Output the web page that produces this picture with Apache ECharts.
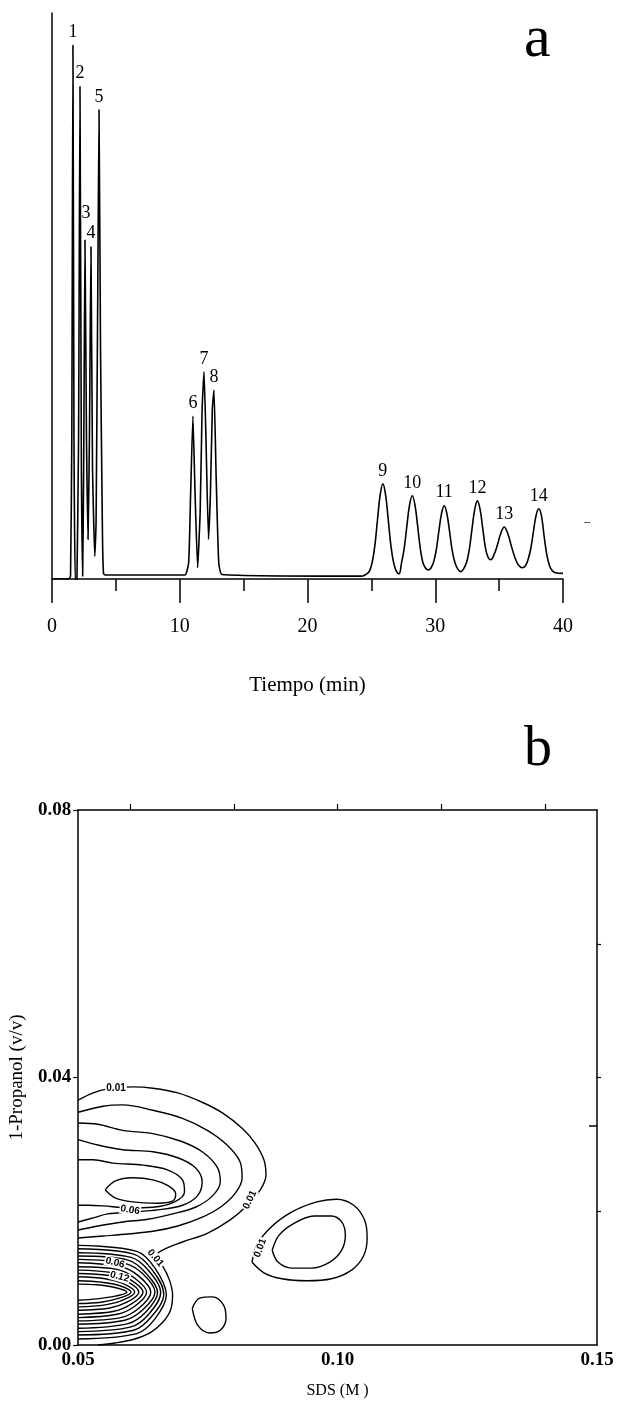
<!DOCTYPE html>
<html>
<head>
<meta charset="utf-8">
<script src="https://cdn.jsdelivr.net/npm/echarts@6/dist/echarts.min.js"></script>
<style>
  html, body { margin: 0; padding: 0; background: #fff; }
  #chart { width: 617px; height: 1411px; }
</style>
</head>
<body>
<div id="chart"></div>
<script>
// ---- (a) chromatogram: [time (min), detector signal] ----
// first part: the sharp early peaks 1-8
const chromatogramEarly = [
  [0, 0], [1.3, 0], [1.45, 0.5],
  [1.55, 25], [1.64, 94.3], [1.72, 25], [1.82, -0.5],
  [1.95, -0.3], [2.08, 25], [2.19, 87], [2.3, 20], [2.4, 0.5],
  [2.48, 20], [2.58, 59.9], [2.7, 25], [2.82, 7],
  [2.93, 25], [3.05, 58.7], [3.17, 20], [3.35, 4],
  [3.45, 10], [3.58, 50], [3.68, 82.9], [3.8, 40], [3.95, 8], [4.03, 1], [4.15, 0.7],
  [10.4, 0.7], [10.7, 3], [10.85, 15], [11.03, 28.8], [11.2, 15], [11.4, 2],
  [11.6, 12], [11.75, 30], [11.9, 36.6], [12.05, 25], [12.25, 7],
  [12.4, 15], [12.55, 30], [12.68, 33.4], [12.85, 18], [13.05, 3], [13.3, 0.8],
  [24.3, 0.5]
];
// second part: the broader late peaks 9-14
const chromatogramLate = [
  [24.3, 0.5], [24.64, 0.9], [24.85, 1.4], [25.06, 2.9], [25.27, 5.85], [25.48, 10.5], [25.69, 14.9],
  [25.9, 16.8], [26.11, 14.9], [26.32, 10.5], [26.53, 5.85], [26.74, 2.9], [26.95, 1.4], [27.16, 0.9],
  [27.36, 2.85], [27.57, 5.4], [27.78, 9.4], [27.99, 13.1], [28.2, 14.7], [28.41, 13.1], [28.62, 9.4],
  [28.83, 5.4], [29.04, 2.85], [29.25, 1.9], [29.45, 1.6], [29.65, 1.9],
  [29.86, 2.9], [30.07, 5.0], [30.28, 8.4], [30.49, 11.55], [30.7, 12.95], [30.91, 11.55], [31.12, 8.4],
  [31.33, 5.0], [31.54, 2.9], [31.75, 1.8], [32.0, 1.3], [32.22, 1.8],
  [32.46, 3.0], [32.67, 5.3], [32.88, 8.9], [33.09, 12.3], [33.3, 13.8], [33.51, 12.3], [33.72, 8.9],
  [33.93, 5.5], [34.14, 3.8], [34.35, 3.4],
  [34.6, 4.3], [34.85, 5.9], [35.12, 8.0], [35.4, 9.2], [35.68, 8.0], [35.95, 5.9], [36.22, 3.9],
  [36.5, 2.5], [36.8, 2.0], [37.05, 2.3],
  [37.26, 3.4], [37.47, 5.3], [37.68, 8.3], [37.89, 11.2], [38.1, 12.4], [38.31, 11.2], [38.52, 7.6],
  [38.73, 4.3], [38.94, 2.4], [39.15, 1.5], [39.4, 1.1], [40, 1.0]
];

// peak numbering and apex positions
const peakNumbers = ['1', '2', '3', '4', '5', '6', '7', '8', '9', '10', '11', '12', '13', '14'];
const peakTimes   = [1.64, 2.19, 2.58, 3.05, 3.68, 11.03, 11.9, 12.68, 25.9, 28.2, 30.7, 33.3, 35.4, 38.1];
const peakHeights = [94.3, 87, 59.9, 58.7, 82.9, 28.8, 36.6, 33.4, 16.8, 14.7, 12.95, 13.8, 9.2, 12.4];

// ---- (b) contour map: SDS (M) vs 1-propanol (v/v) ----
const contourOuter = [
  [0.0500, 0.0366], [0.0529, 0.0377], [0.0557, 0.0383], [0.0605, 0.0386], [0.0644, 0.0384],
  [0.0692, 0.0377], [0.0739, 0.0363], [0.0778, 0.0347], [0.0816, 0.0324], [0.0841, 0.0302],
  [0.0858, 0.0277], [0.0862, 0.0254], [0.0851, 0.0232], [0.0826, 0.0209], [0.0793, 0.0187],
  [0.0749, 0.0167], [0.0701, 0.0154], [0.0663, 0.0142], [0.0648, 0.0132], [0.0663, 0.0118],
  [0.0676, 0.0097], [0.0682, 0.0075], [0.0678, 0.0052], [0.0663, 0.0034], [0.0640, 0.0019],
  [0.0609, 0.0009], [0.0571, 0.0003], [0.0538, 0]
];
const contourUpper2 = [
  [0.0500, 0.0348], [0.0548, 0.0357], [0.0586, 0.0359], [0.0644, 0.0351], [0.0701, 0.0339],
  [0.0749, 0.0321], [0.0787, 0.0299], [0.0812, 0.0274], [0.0816, 0.0250], [0.0803, 0.0227],
  [0.0774, 0.0206], [0.0736, 0.0190], [0.0692, 0.0178], [0.0644, 0.0170], [0.0596, 0.0166],
  [0.0548, 0.0163], [0.0500, 0.0160]
];
const contourUpper3 = [
  [0.0500, 0.0332], [0.0538, 0.0330], [0.0586, 0.0321], [0.0644, 0.0316], [0.0697, 0.0305],
  [0.0739, 0.0289], [0.0768, 0.0266], [0.0774, 0.0244], [0.0759, 0.0223], [0.0726, 0.0206],
  [0.0682, 0.0196], [0.0634, 0.0188], [0.0586, 0.0184], [0.0538, 0.0178], [0.0500, 0.0172]
];
const contourUpper4 = [
  [0.0500, 0.0307], [0.0538, 0.0299], [0.0586, 0.0292], [0.0644, 0.0289], [0.0692, 0.0280],
  [0.0726, 0.0265], [0.0739, 0.0244], [0.0730, 0.0223], [0.0701, 0.0209], [0.0653, 0.0202],
  [0.0605, 0.0199], [0.0557, 0.0196], [0.0529, 0.0190], [0.0500, 0.0184]
];
const contourUpper5 = [
  [0.0500, 0.0277], [0.0529, 0.0277], [0.0567, 0.0272], [0.0625, 0.0269], [0.0672, 0.0262],
  [0.0701, 0.0247], [0.0705, 0.0229], [0.0686, 0.0214], [0.0644, 0.0206], [0.0596, 0.0205],
  [0.0548, 0.0208], [0.0519, 0.0209], [0.0500, 0.0209]
];
const contourUpper6 = [
  [0.0552, 0.0232], [0.0571, 0.0245], [0.0605, 0.0250], [0.0644, 0.0247], [0.0674, 0.0238],
  [0.0688, 0.0226], [0.0682, 0.0215], [0.0653, 0.0212], [0.0605, 0.0214], [0.0571, 0.0220],
  [0.0552, 0.0232]
];
// nested contours of the lower lobe, innermost first
const contourLower = [
  [[0.05, 0.0091], [0.0536, 0.0090], [0.0571, 0.0086], [0.0594, 0.0079], [0.0571, 0.0073], [0.0536, 0.0069], [0.05, 0.0067]],
  [[0.05, 0.0096], [0.0544, 0.0094], [0.0579, 0.0089], [0.0602, 0.0079], [0.0579, 0.0070], [0.0544, 0.0064], [0.05, 0.0062]],
  [[0.05, 0.0102], [0.0552, 0.0099], [0.0586, 0.0092], [0.0609, 0.0079], [0.0586, 0.0067], [0.0552, 0.0060], [0.05, 0.0057]],
  [[0.05, 0.0107], [0.0559, 0.0104], [0.0594, 0.0095], [0.0617, 0.0079], [0.0594, 0.0064], [0.0559, 0.0055], [0.05, 0.0052]],
  [[0.05, 0.0112], [0.0567, 0.0108], [0.0602, 0.0097], [0.0625, 0.0079], [0.0602, 0.0061], [0.0567, 0.0050], [0.05, 0.0046]],
  [[0.05, 0.0117], [0.0575, 0.0113], [0.0609, 0.0100], [0.0632, 0.0079], [0.0609, 0.0058], [0.0575, 0.0046], [0.05, 0.0041]],
  [[0.05, 0.0123], [0.0582, 0.0117], [0.0617, 0.0103], [0.0640, 0.0079], [0.0617, 0.0055], [0.0582, 0.0041], [0.05, 0.0036]],
  [[0.05, 0.0128], [0.0590, 0.0122], [0.0625, 0.0106], [0.0648, 0.0079], [0.0625, 0.0053], [0.0590, 0.0037], [0.05, 0.0031]],
  [[0.05, 0.0133], [0.0596, 0.0127], [0.0630, 0.0108], [0.0653, 0.0078], [0.0630, 0.0049], [0.0596, 0.0032], [0.05, 0.0025]],
  [[0.05, 0.0138], [0.0602, 0.0131], [0.0636, 0.0111], [0.0659, 0.0078], [0.0636, 0.0046], [0.0602, 0.0027], [0.05, 0.0020]],
  [[0.05, 0.0144], [0.0607, 0.0136], [0.0642, 0.0113], [0.0665, 0.0076], [0.0642, 0.0043], [0.0607, 0.0022], [0.05, 0.0015]],
  [[0.05, 0.0149], [0.0613, 0.0140], [0.0648, 0.0115], [0.0670, 0.0075], [0.0648, 0.0039], [0.0613, 0.0017], [0.05, 0.0009]]
];
const contourIsland = [
  [0.0720, 0.0055], [0.0734, 0.0070], [0.0759, 0.0072], [0.0780, 0.0060], [0.0785, 0.0040],
  [0.0774, 0.0022], [0.0753, 0.0018], [0.0730, 0.0030], [0.0720, 0.0055]
];
const contourRightOuter = [
  [0.0835, 0.0124], [0.0845, 0.0150], [0.0870, 0.0175], [0.0912, 0.0199], [0.0960, 0.0214],
  [0.0998, 0.0218], [0.1031, 0.0209], [0.1052, 0.0187], [0.1057, 0.0160], [0.1050, 0.0133],
  [0.1027, 0.0112], [0.0988, 0.0099], [0.0941, 0.0096], [0.0893, 0.0099], [0.0858, 0.0108],
  [0.0835, 0.0124]
];
const contourRightInner = [
  [0.0874, 0.0142], [0.0887, 0.0164], [0.0916, 0.0182], [0.0954, 0.0193], [0.0988, 0.0193],
  [0.1008, 0.0184], [0.1015, 0.0164], [0.1008, 0.0142], [0.0985, 0.0124], [0.0950, 0.0115],
  [0.0912, 0.0115], [0.0885, 0.0124], [0.0874, 0.0142]
];

// contour level labels
const levelText = ['0.01', '0.06', '0.01', '0.01', '0.06', '0.12', '0.01'];
const levelPos  = [[0.0573, 0.0384], [0.0600, 0.0202], [0.0831, 0.0217], [0.0649, 0.0130],
                   [0.0571, 0.0123], [0.0580, 0.0102], [0.0851, 0.0145]];
const levelAngle = [0, -10, 65, -50, -15, -15, 70];

const sdsMinorTicks = [0.06, 0.08, 0.10, 0.12, 0.14];
const propanolRightTicks = [0.02, 0.04, 0.06];

// ---- drawing ----
const SERIF = '"Liberation Serif", "DejaVu Serif", serif';
const INK = '#000';

const chart = echarts.init(document.getElementById('chart'), null, { renderer: 'canvas' });

const contourStyle = { color: INK, width: 1.4 };
function contourSeries(data) {
  return {
    type: 'line', xAxisIndex: 1, yAxisIndex: 1, data: data,
    showSymbol: false, symbol: 'none', smooth: 0.35, animation: false,
    lineStyle: contourStyle, z: 3, silent: true
  };
}

const contourSets = [contourOuter, contourUpper2, contourUpper3, contourUpper4, contourUpper5, contourUpper6]
  .concat(contourLower)
  .concat([contourIsland, contourRightOuter, contourRightInner]);

const traceStyle = { color: INK, width: 1.6 };

const option = {
  animation: false,
  backgroundColor: '#fff',
  textStyle: { fontFamily: SERIF, color: INK },
  grid: [
    { left: 52, top: 13, width: 511, height: 566 },
    { left: 75, top: 810, width: 522, height: 535 }
  ],
  xAxis: [
    {
      gridIndex: 0, type: 'value', min: 0, max: 40, interval: 10,
      axisLine: { onZero: false, lineStyle: { color: INK, width: 1.5 } },
      axisTick: { length: 24, lineStyle: { color: INK, width: 1.5 } },
      minorTick: { show: true, splitNumber: 2, length: 12, lineStyle: { color: INK, width: 1.5 } },
      axisLabel: { margin: 38, fontSize: 20, fontFamily: SERIF, color: INK },
      splitLine: { show: false },
      name: 'Tiempo (min)', nameLocation: 'middle', nameGap: 96,
      nameTextStyle: { fontSize: 21, fontFamily: SERIF, color: INK }
    },
    {
      gridIndex: 1, type: 'value', position: 'bottom', min: 0.05, max: 0.15, interval: 0.05,
      axisLine: { onZero: false, lineStyle: { color: INK, width: 1.5 } },
      axisTick: { show: false },
      axisLabel: { margin: 6, fontSize: 19, fontWeight: 'bold', fontFamily: SERIF, color: INK,
                   formatter: v => v.toFixed(2) },
      splitLine: { show: false },
      name: 'SDS (M )', nameLocation: 'middle', nameGap: 38,
      nameTextStyle: { fontSize: 16, fontFamily: SERIF, color: INK }
    },
    {
      gridIndex: 1, type: 'value', position: 'top', min: 0.05, max: 0.15,
      axisLine: { onZero: false, lineStyle: { color: INK, width: 1.5 } },
      axisTick: { show: true, length: 6, customValues: sdsMinorTicks, lineStyle: { color: INK, width: 1.2 } },
      axisLabel: { show: false },
      splitLine: { show: false }
    }
  ],
  yAxis: [
    {
      gridIndex: 0, type: 'value', min: 0, max: 100,
      axisLine: { show: true, onZero: false, lineStyle: { color: INK, width: 1.5 } },
      axisTick: { show: false }, axisLabel: { show: false }, splitLine: { show: false }
    },
    {
      gridIndex: 1, type: 'value', position: 'left', min: 0, max: 0.08, interval: 0.04,
      axisLine: { show: true, onZero: false, lineStyle: { color: INK, width: 1.5 } },
      axisTick: { show: true, length: 5, lineStyle: { color: INK, width: 1.2 } },
      axisLabel: { margin: 7, fontSize: 19, fontWeight: 'bold', fontFamily: SERIF, color: INK,
                   formatter: v => v.toFixed(2) },
      splitLine: { show: false },
      name: '1-Propanol (v/v)', nameLocation: 'middle', nameGap: 45,
      nameTextStyle: { fontSize: 19, fontFamily: SERIF, color: INK }
    },
    {
      gridIndex: 1, type: 'value', position: 'right', min: 0, max: 0.08,
      axisLine: { show: true, onZero: false, lineStyle: { color: INK, width: 1.5 } },
      axisTick: { show: true, length: 4, customValues: propanolRightTicks, lineStyle: { color: INK, width: 1.2 } },
      axisLabel: { show: false }, splitLine: { show: false }
    }
  ],
  series: [
    {
      type: 'line', xAxisIndex: 0, yAxisIndex: 0, data: chromatogramEarly,
      showSymbol: false, symbol: 'none', smooth: 0.15,
      lineStyle: traceStyle, z: 3, silent: true
    },
    {
      type: 'line', xAxisIndex: 0, yAxisIndex: 0, data: chromatogramLate,
      showSymbol: false, symbol: 'none', smooth: 0.4,
      lineStyle: traceStyle, z: 3, silent: true
    },
    {
      type: 'scatter', xAxisIndex: 0, yAxisIndex: 0, symbolSize: 0, silent: true,
      itemStyle: { opacity: 1, color: INK },
      data: peakNumbers.map((n, i) => ({
        value: [peakTimes[i], peakHeights[i]],
        label: { formatter: n, offset: i === 2 ? [1, -14] : [0, 0] }
      })),
      label: { show: true, position: 'top', distance: 4, fontSize: 18, fontFamily: SERIF, color: INK },
      z: 4
    }
  ].concat(contourSets.map(contourSeries)).concat([
    {
      type: 'scatter', xAxisIndex: 1, yAxisIndex: 1, symbolSize: 0, silent: true,
      itemStyle: { opacity: 1, color: INK },
      data: levelText.map((t, i) => ({
        value: levelPos[i],
        label: { formatter: t, rotate: levelAngle[i] }
      })),
      label: {
        show: true, position: 'inside', fontSize: 10, fontWeight: 'bold',
        fontFamily: '"Liberation Sans Narrow", "Liberation Sans", sans-serif', color: INK,
        backgroundColor: '#fff', padding: [0, 1]
      },
      z: 5
    }
  ]),
  graphic: [
    { type: 'text', left: 524, top: 10, style: { text: 'a', font: '60px ' + SERIF, fill: INK } },
    { type: 'text', left: 524, top: 722, style: { text: 'b', font: '56px ' + SERIF, fill: INK } },
    { type: 'text', left: 584, top: 517, style: { text: '--', font: '10px ' + SERIF, fill: INK } },
    { type: 'line', shape: { x1: 589, y1: 1126, x2: 597, y2: 1126 }, style: { stroke: INK, lineWidth: 1.5 } }
  ]
};

chart.setOption(option);
</script>
</body>
</html>
